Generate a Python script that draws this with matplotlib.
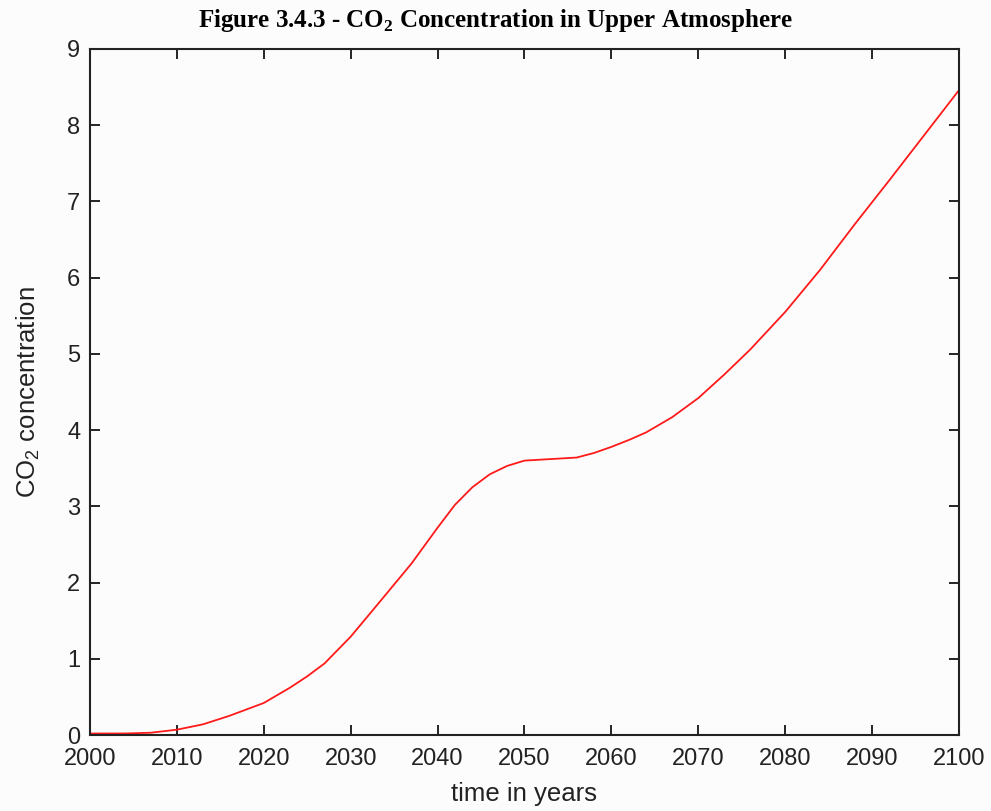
import matplotlib.pyplot as plt

plt.rcParams['mathtext.fontset'] = 'custom'
plt.rcParams['mathtext.rm'] = 'Liberation Sans'
plt.rcParams['mathtext.bf'] = 'Liberation Serif:bold'

years = [2000, 2004, 2007, 2010, 2013, 2016, 2020, 2023, 2025, 2027, 2030, 2033,
         2037, 2040, 2042, 2044, 2046, 2048, 2050, 2053, 2056, 2058, 2060, 2062,
         2064, 2067, 2070, 2073, 2076, 2080, 2084, 2088, 2092, 2096, 2100]
co2 = [0.02, 0.02, 0.03, 0.07, 0.14, 0.25, 0.42, 0.62, 0.77, 0.94, 1.29, 1.70,
       2.25, 2.72, 3.02, 3.25, 3.42, 3.53, 3.60, 3.62, 3.64, 3.70, 3.78, 3.87,
       3.97, 4.17, 4.42, 4.73, 5.06, 5.55, 6.10, 6.70, 7.28, 7.87, 8.46]

xticks = list(range(2000, 2101, 10))
yticks = list(range(0, 10))

fig = plt.figure(figsize=(9.91, 8.11), dpi=100)
fig.patch.set_facecolor('#fcfcfc')
ax = fig.add_axes([0.0908, 0.0937, 0.8769, 0.8459])
ax.set_facecolor('#fcfcfc')

ax.plot(years, co2, color='#ff1a1a', linewidth=1.3)

ax.set_xlim(2000, 2100)
ax.set_ylim(0, 9)
ax.set_xticks(xticks)
ax.set_yticks(yticks)
ax.tick_params(direction='in', top=True, right=True, length=7, width=1.2,
               labelsize=17)
ax.tick_params(axis='x', pad=9)
ax.tick_params(axis='y', pad=7)
for lbl in ax.get_xticklabels() + ax.get_yticklabels():
    lbl.set_family('Liberation Sans')
    lbl.set_color('#222222')
for s in ax.spines.values():
    s.set_linewidth(1.5)
    s.set_color('#222222')

ax.set_xlabel('time in years', fontsize=18.5, family='Liberation Sans',
              labelpad=9, color='#222222')
ax.set_ylabel(r'CO$_\mathrm{2}$ concentration', fontsize=18.5, family='Liberation Sans',
              labelpad=18, color='#222222')

fig.text(0.5, 0.975, r'Figure 3.4.3 - CO$_\mathbf{2}$ Concentration in Upper Atmosphere',
         ha='center', va='center', fontsize=18, fontweight='bold', family='Liberation Serif')

fig.savefig('out.png', dpi=100, facecolor=fig.get_facecolor())
